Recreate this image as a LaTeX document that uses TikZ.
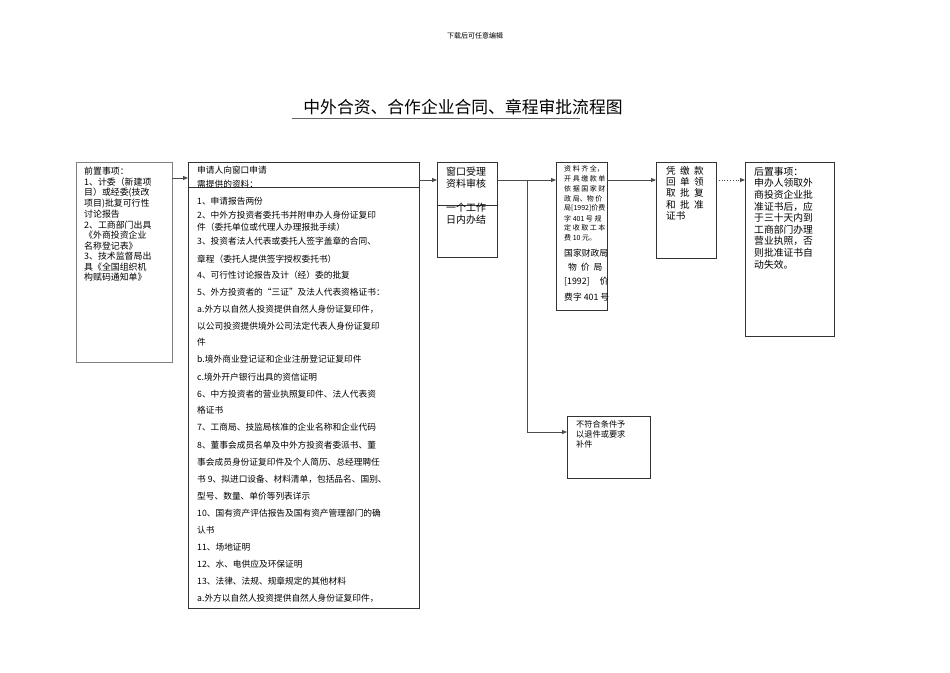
\documentclass[tikz,border=0pt]{standalone}
\usepackage{fontspec}
\setmainfont{Noto Sans CJK SC}
\usetikzlibrary{arrows.meta}
\tikzset{
 box/.style={draw=black!80,line width=0.8pt},
 ln/.style={anchor=west,inner sep=0pt,font=\fontsize{8.7}{9}\selectfont},
 lb/.style={anchor=west,inner sep=0pt,font=\fontsize{9}{10}\selectfont},
 arr/.style={-{Triangle[length=5pt,width=4pt]},black!70,line width=0.8pt}
}
\begin{document}
\begin{tikzpicture}[x=1pt,y=-1pt]
\useasboundingbox (0,0) rectangle (950,672);
\node[inner sep=0,font=\fontsize{7}{8}\selectfont] (hdr) at (475,36) {下载后可任意编辑};
\node[inner sep=0,font=\fontsize{16.8}{17}\selectfont] (title) at (463,107) {中外合资、合作企业合同、章程审批流程图};
\draw[black!60,line width=1pt] (292,118) -- (580,118);
% boxes
\draw[box,draw=black!50] (76,162) rectangle (172,362); \coordinate (b1) at (172,178);
\draw[box] (188,162) rectangle (419,608); \draw[box] (188,187) -- (419,187);
\coordinate (b2l) at (188,178); \coordinate (b2r) at (419,180);
\draw[box] (437,162) rectangle (497,257); \draw[box] (437,205) -- (497,205);
\coordinate (b3l) at (437,180); \coordinate (b3r) at (497,180);
\draw[box] (556,162) rectangle (607,310);
\coordinate (b4l) at (556,180); \coordinate (b4r) at (607,180);
\draw[box] (656,162) rectangle (716,258);
\coordinate (b5l) at (656,180); \coordinate (b5r) at (716,180);
\draw[box] (745,162) rectangle (834,336); \coordinate (b6l) at (745,180);
\draw[box] (567,416) rectangle (650,478); \coordinate (b7l) at (567,432);
\coordinate (br) at (527,180); \coordinate (bd) at (527,432);
% connectors
\draw[arr] (b1) -- (b2l);
\draw[arr] (b2r) -- (b3l);
\draw[arr] (b3r) -- (b4l);
\draw[arr] (br) -- (bd) -- (b7l);
\draw[arr] (b4r) -- (b5l);
\draw[arr,dotted] (b5r) -- (b6l);
% box1 text
\foreach \t [count=\i] in {前置事项：,1、计委（新建项,目）或经委(技改,项目)批复可行性,讨论报告,2、工商部门出具,《外商投资企业,名称登记表》,3、技术监督局出,具《全国组织机,构赋码通知单》}
  \node[lb,font=\fontsize{8.9}{9}\selectfont] (p\i) at (84,161+\i*10.6) {\t};
% box2 text
\node[ln] (h1) at (197,170) {申请人向窗口申请};
\node[ln] (h2) at (197,184) {需提供的资料：};
\foreach \t/\y [count=\i] in {1、申请报告两份/201,2、中外方投资者委托书并附申办人身份证复印/215,件（委托单位或代理人办理报批手续）/227,3、投资者法人代表或委托人签字盖章的合同、/241,章程（委托人提供签字授权委托书）/259,4、可行性讨论报告及计（经）委的批复/275,5、外方投资者的“三证”及法人代表资格证书：/292,a.外方以自然人投资提供自然人身份证复印件，/309,以公司投资提供境外公司法定代表人身份证复印/326,件/342,b.境外商业登记证和企业注册登记证复印件/359,c.境外开户银行出具的资信证明/377,6、中方投资者的营业执照复印件、法人代表资/394,格证书/410,7、工商局、技监局核准的企业名称和企业代码/427,8、董事会成员名单及中外方投资者委派书、董/445,事会成员身份证复印件及个人简历、总经理聘任/462,书 9、拟进口设备、材料清单，包括品名、国别、/479,型号、数量、单价等列表详示/496,10、国有资产评估报告及国有资产管理部门的确/513,认书/530,11、场地证明/547,12、水、电供应及环保证明/564,13、法律、法规、规章规定的其他材料/581,a.外方以自然人投资提供自然人身份证复印件，/598}
  \node[ln] (m\i) at (197,\y) {\t};
% box3
\foreach \t/\y [count=\i] in {窗口受理/172,资料审核/184,一个工作/208,日内办结/220}
  \node[lb,font=\fontsize{10}{11}\selectfont] (c\i) at (446,\y) {\t};
% box4
\foreach \t [count=\i] in {资 料 齐 全，,开 具 缴 款 单,依 据 国 家 财,政 局、物 价,局[1992]价费,字 401 号 规,定 收 取 工 本,费 10 元。}
  \node[lb,font=\fontsize{7}{8}\selectfont] (d\i) at (564,159+\i*9.9) {\t};
\foreach \t/\y [count=\i] in {国家财政局/253,\ \ 物\ \ 价\ \ 局/267,{[1992]\hspace{10pt}价}/282,费字 401 号/297}
  \node[lb,font=\fontsize{8.8}{10}\selectfont] (e\i) at (564,\y) {\t};
% box5
\foreach \t [count=\i] in {凭\ \ 缴\ \ 款,回\ \ 单\ \ 领,取\ \ 批\ \ 复,和\ \ 批\ \ 准,证书}
  \node[lb,font=\fontsize{9.6}{10}\selectfont] (f\i) at (666,159+\i*11.4) {\t};
% box6
\foreach \t [count=\i] in {后置事项：,申办人领取外,商投资企业批,准证书后，应,于三十天内到,工商部门办理,营业执照，否,则批准证书自,动失效。}
  \node[lb,font=\fontsize{9.8}{10}\selectfont] (g\i) at (754,160+\i*11.6) {\t};
% box7
\foreach \t [count=\i] in {不符合条件予,以退件或要求,补件}
  \node[lb,font=\fontsize{8.2}{9}\selectfont] (k\i) at (576,414+\i*10) {\t};
\end{tikzpicture}
\end{document}
